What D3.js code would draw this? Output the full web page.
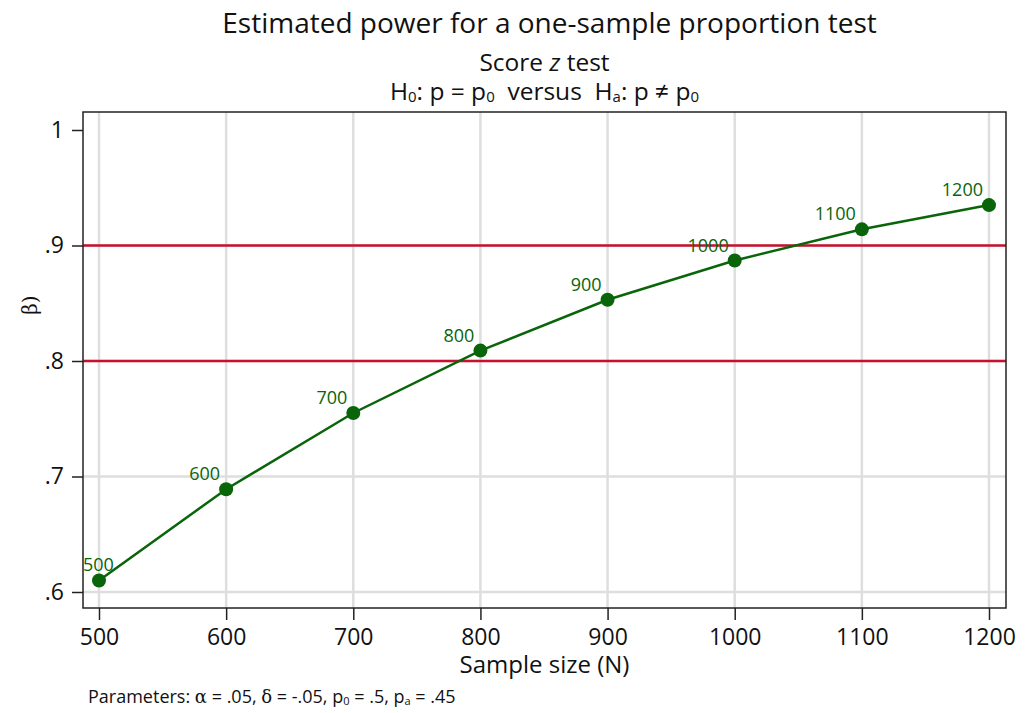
<!DOCTYPE html>
<html>
<head>
<meta charset="utf-8">
<script src="https://cdn.jsdelivr.net/npm/d3@7"></script>
<style>
  html, body { margin: 0; padding: 0; background: #fff; }
  svg { display: block; font-family: "Open Sans", sans-serif; }
  .pre { white-space: pre; }
</style>
</head>
<body>
<svg id="chart" width="1026" height="713"></svg>
<script>
// Power curve for a one-sample proportion test
const sampleSizes = [500, 600, 700, 800, 900, 1000, 1100, 1200];
const powerValues = [0.610, 0.689, 0.755, 0.809, 0.853, 0.887, 0.914, 0.935];
const xTicks = [500, 600, 700, 800, 900, 1000, 1100, 1200];
const yTicks = [0.6, 0.7, 0.8, 0.9, 1.0];
const yTickLabels = [".6", ".7", ".8", ".9", "1"];
const yGrid = [0.6, 0.7, 0.8, 0.9];
const referenceLines = [0.8, 0.9];

const svg = d3.select("#chart");
const frame = { left: 83, right: 1006, top: 112, bottom: 608 };

const x = d3.scaleLinear().domain([500, 1200]).range([99, 989]);
const y = d3.scaleLinear().domain([0.6, 1.0]).range([592, 130]);

const green = "#0a640a";
const gridColor = "#dedede";
const refColor = "#c8102e";

// grid lines
svg.append("g").selectAll("line").data(xTicks).join("line")
  .attr("x1", d => x(d)).attr("x2", d => x(d))
  .attr("y1", frame.top).attr("y2", frame.bottom)
  .attr("stroke", gridColor).attr("stroke-width", 2.5);
svg.append("g").selectAll("line").data(yGrid).join("line")
  .attr("x1", frame.left).attr("x2", frame.right)
  .attr("y1", d => y(d)).attr("y2", d => y(d))
  .attr("stroke", gridColor).attr("stroke-width", 2.5);

// reference lines at .8 and .9
svg.append("g").selectAll("line").data(referenceLines).join("line")
  .attr("x1", frame.left).attr("x2", frame.right)
  .attr("y1", d => y(d)).attr("y2", d => y(d))
  .attr("stroke", refColor).attr("stroke-width", 2.5);

// plot border
svg.append("rect")
  .attr("x", frame.left).attr("y", frame.top)
  .attr("width", frame.right - frame.left).attr("height", frame.bottom - frame.top)
  .attr("fill", "none").attr("stroke", "#222").attr("stroke-width", 1.5);

// axes
const xAxis = d3.axisBottom(x).tickValues(xTicks).tickSize(12).tickPadding(9)
  .tickFormat(d3.format("d"));
const gx = svg.append("g").attr("transform", `translate(0,${frame.bottom})`).call(xAxis);
gx.select(".domain").remove();
gx.selectAll(".tick line").attr("stroke", "#222").attr("stroke-width", 1.5);
gx.selectAll(".tick text").attr("fill", "#111").style("font-size", "23px")
  .style("font-family", "'Open Sans', sans-serif");

const yAxis = d3.axisLeft(y).tickValues(yTicks).tickSize(11).tickPadding(8)
  .tickFormat((d, i) => yTickLabels[i]);
const gy = svg.append("g").attr("transform", `translate(${frame.left},0)`).call(yAxis);
gy.select(".domain").remove();
gy.selectAll(".tick line").attr("stroke", "#222").attr("stroke-width", 1.5);
gy.selectAll(".tick text").attr("fill", "#111").style("font-size", "23px")
  .style("font-family", "'Open Sans', sans-serif");

// power curve
const pts = sampleSizes.map((n, i) => ({ n, p: powerValues[i] }));
svg.append("path").datum(pts)
  .attr("d", d3.line().x(d => x(d.n)).y(d => y(d.p)))
  .attr("fill", "none").attr("stroke", green).attr("stroke-width", 2.5);
svg.append("g").selectAll("circle").data(pts).join("circle")
  .attr("cx", d => x(d.n)).attr("cy", d => y(d.p)).attr("r", 7)
  .attr("fill", green);

// marker labels, placed up-left of each point and kept inside the plot
const labels = svg.append("g").selectAll("text").data(pts).join("text")
  .attr("fill", green).style("font-size", "18px")
  .attr("y", d => y(d.p) - 9)
  .text(d => d.n);
labels.each(function (d) {
  const w = this.getComputedTextLength();
  let left = x(d.n) - 6 - w;
  if (left < frame.left) left = frame.left;
  d3.select(this).attr("x", left);
});

// rich text: segments are [text, kind] with kind "sub" for subscripts
// and "greek" for serif Greek letters
function rich(t, segments, subSize, shift) {
  let lowered = false;
  segments.forEach(([s, kind]) => {
    const span = t.append("tspan").text(s);
    if (kind === "sub") {
      span.style("font-size", subSize);
      if (!lowered) { span.attr("dy", shift); lowered = true; }
    } else {
      if (lowered) { span.attr("dy", -shift); lowered = false; }
      if (kind === "greek") span.style("font-family", "'DejaVu Serif', serif");
    }
  });
}

// titles
const cx = (frame.left + frame.right) / 2;
svg.append("text").attr("x", cx + 5).attr("y", 33).attr("text-anchor", "middle")
  .style("font-size", "28px").attr("fill", "#111")
  .text("Estimated power for a one-sample proportion test");
const st = svg.append("text").attr("x", cx).attr("y", 71).attr("text-anchor", "middle")
  .style("font-size", "24.5px").attr("fill", "#111");
st.append("tspan").text("Score ");
st.append("tspan").style("font-style", "italic").text("z");
st.append("tspan").text(" test");

const hyp = svg.append("text").attr("class", "pre").attr("x", cx).attr("y", 100)
  .attr("text-anchor", "middle").style("font-size", "24.5px").attr("fill", "#111");
rich(hyp, [["H"], ["0", "sub"], [": p = p"], ["0", "sub"], ["  versus  H"],
  ["a", "sub"], [": p ≠ p"], ["0", "sub"]], "15px", 2);

// axis titles
svg.append("text").attr("x", cx).attr("y", 673).attr("text-anchor", "middle")
  .style("font-size", "24px").attr("fill", "#111").text("Sample size (N)");
svg.append("text")
  .attr("transform", "translate(37,305) rotate(-90)")
  .attr("text-anchor", "middle")
  .style("font-family", "'DejaVu Serif', serif").style("font-size", "20px")
  .attr("fill", "#111").text("β)");

// note
const note = svg.append("text").attr("class", "pre").attr("x", 88).attr("y", 703)
  .style("font-size", "18px").attr("fill", "#111");
rich(note, [["Parameters: "], ["α", "greek"], [" = .05, "], ["δ", "greek"],
  [" = -.05, p"], ["0", "sub"], [" = .5, p"], ["a", "sub"], [" = .45"]], "11px", 1.5);
</script>
</body>
</html>
